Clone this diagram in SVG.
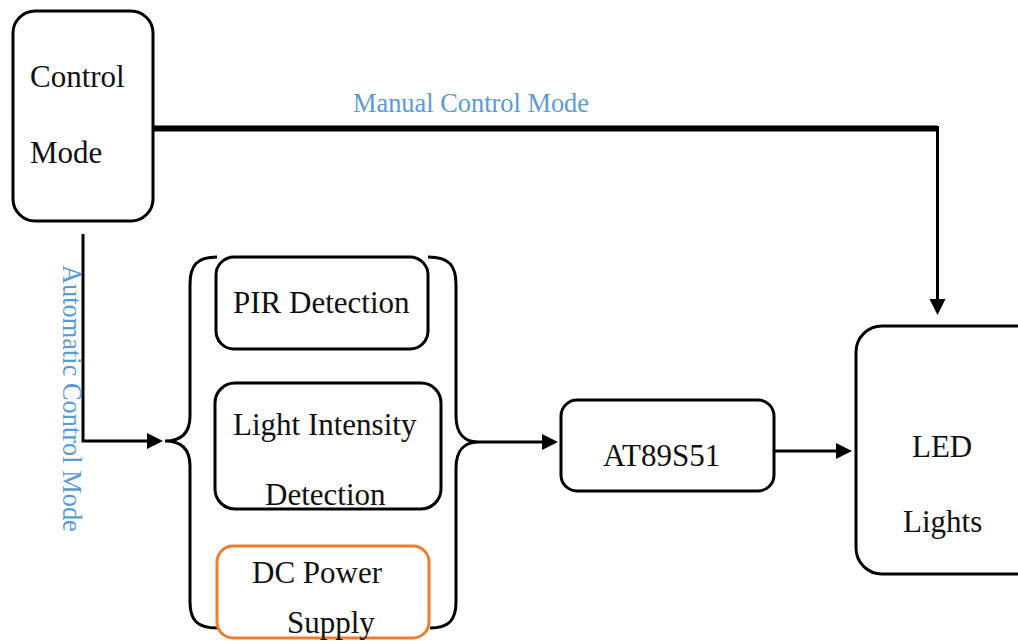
<svg xmlns="http://www.w3.org/2000/svg" width="1018" height="643" viewBox="0 0 1018 643">
<style>
.box{fill:#fff;stroke:#000;stroke-width:3}
.orange{fill:#fff;stroke:#ed7d31;stroke-width:3}
.t{font-family:"Liberation Serif","Times New Roman",serif;font-size:31px;fill:#111}
.lbl{font-family:"Liberation Serif","Times New Roman",serif;font-size:26.4px;fill:#5b9bd5}
.ln{fill:none;stroke:#000;stroke-width:3}
</style>
<defs>
<marker id="ah" markerUnits="userSpaceOnUse" viewBox="0 0 16 16" refX="12" refY="8" markerWidth="16" markerHeight="16" orient="auto">
<path d="M0,0 L16,8 L0,16 z" fill="#000"/>
</marker>
</defs>
<rect width="1018" height="643" fill="#fff"/>
<g id="connectors">
<path d="M154 128.5 H937.5" stroke="#000" stroke-width="6" fill="none"/>
<path class="ln" d="M937.5 126 V311" stroke-width="4" marker-end="url(#ah)"/>
<path class="ln" d="M83 234 V441 H159" marker-end="url(#ah)"/>
<path class="ln" d="M478 442 H554" marker-end="url(#ah)"/>
<path class="ln" d="M775 451 H848" marker-end="url(#ah)"/>
<path class="ln" d="M217 257 C197 257 190 265 190 285 L190 416 C190 434 180 441 165 441 C180 441 190 448 190 466 L190 602 C190 620 197 628 217 628"/>
<path class="ln" d="M428 257 C449 257 456 265 456 285 L456 416 C456 434 465 442 478 442 C465 442 456 450 456 468 L456 602 C456 620 449 628 430 628"/>
<text class="lbl" x="353" y="112">Manual Control Mode</text>
<text class="lbl" transform="translate(63,265) rotate(90)">Automatic Control Mode</text>
</g>
<g id="control-mode">
<rect class="box" x="13" y="11" width="140" height="210" rx="22"/>
<text class="t" x="30" y="87">Control</text>
<text class="t" x="30" y="163">Mode</text>
</g>
<g id="pir">
<rect class="box" x="216" y="257" width="212" height="92" rx="18"/>
<text class="t" x="233" y="313">PIR Detection</text>
</g>
<g id="light">
<rect class="box" x="215" y="383" width="226" height="126" rx="20"/>
<text class="t" x="233" y="435">Light Intensity</text>
<text class="t" x="265" y="505">Detection</text>
</g>
<g id="dc-power">
<rect class="orange" x="217" y="546" width="212" height="92" rx="16"/>
<text class="t" x="252" y="583">DC Power</text>
<text class="t" x="287" y="633">Supply</text>
</g>
<g id="at89s51">
<rect class="box" x="561" y="400" width="213" height="91" rx="16"/>
<text class="t" x="603" y="466">AT89S51</text>
</g>
<g id="led">
<rect class="box" x="856" y="326" width="190" height="248" rx="26"/>
<text class="t" x="912" y="457">LED</text>
<text class="t" x="903" y="532">Lights</text>
</g>
</svg>
